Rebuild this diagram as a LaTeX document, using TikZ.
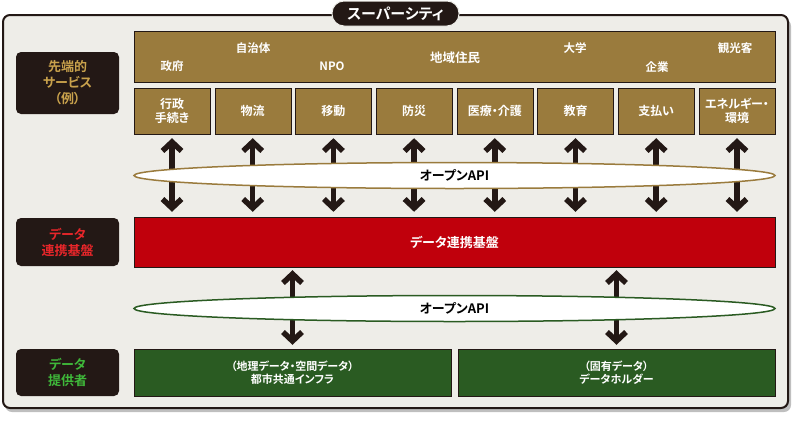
\documentclass[tikz,border=0pt]{standalone}
\usepackage{fontspec}
\setmainfont{Noto Sans CJK JP}[BoldFont={Noto Sans CJK JP Bold}, RawFeature=+palt]
\usepackage{xcolor}
\usetikzlibrary{shapes}
\usetikzlibrary{arrows.meta}
\definecolor{framebg}{HTML}{EEEDE8}
\definecolor{darkbrown}{HTML}{231815}
\definecolor{gold}{HTML}{9A7B3D}
\definecolor{goldtext}{HTML}{C9A24C}
\definecolor{linkred}{HTML}{C0000C}
\definecolor{redtext}{HTML}{E8262A}
\definecolor{provgreen}{HTML}{2A5B22}
\definecolor{greentext}{HTML}{3FB83A}
\tikzset{ svc_box/.style = {rectangle, draw=darkbrown, fill=gold, text=white, minimum width=76, minimum height=46, inner sep=0, align=center, font=\fontsize{12}{14}\selectfont\bfseries} }
\tikzset{ side_label/.style = {rectangle, rounded corners=5, fill=darkbrown, minimum width=103, inner sep=0, align=center, font=\fontsize{13}{16}\selectfont\bfseries} }
\tikzset{ who/.style = {text=white, inner sep=0, font=\fontsize{11.5}{13}\selectfont\bfseries} }
\tikzset{ open_api/.style = {ellipse, fill=white, line width=1.5pt, minimum width=641, minimum height=26, inner sep=0, font=\fontsize{13}{15}\selectfont\bfseries} }
\tikzset{ dbl_arrow/.style = {{Straight Barb[length=9pt,width=19pt]}-{Straight Barb[length=9pt,width=19pt]}, line width=5.5pt, draw=darkbrown} }

\begin{document}
\begin{tikzpicture}[x=1pt,y=-1pt]
        \useasboundingbox (0,0) rectangle (800,421);
        \fill[black!25, rounded corners=7] (5,19) rectangle (791,412);
        \draw[fill=framebg, draw=darkbrown, line width=2pt, rounded corners=7] (3,15) rectangle (788,408);
        \node[rectangle, rounded corners=12, fill=darkbrown, draw=framebg, line width=1pt, minimum width=127, minimum height=25, text=white, font=\fontsize{15}{18}\selectfont\bfseries] (title) at (395.5,13.5) {スーパーシティ};

        \node[side_label, minimum height=62, text=goldtext] (lsvc) at (67.5,83) {先端的\\サービス\\（例）};
        \node[side_label, minimum height=48, text=redtext] (llink) at (67.5,242) {データ\\連携基盤};
        \node[side_label, minimum height=47, text=greentext] (lprov) at (67.5,372.5) {データ\\提供者};

        \node[rectangle, draw=darkbrown, fill=gold, minimum width=641, minimum height=51, inner sep=0] (users) at (454.5,56.5) {};
        \node[who] (u1) at (253,48) {自治体};
        \node[who] (u2) at (172,66) {政府};
        \node[who] (u3) at (332,66) {NPO};
        \node[who, font=\fontsize{12.5}{14}\selectfont\bfseries] (u4) at (455,58) {地域住民};
        \node[who] (u5) at (575,48) {大学};
        \node[who] (u6) at (657,67) {企業};
        \node[who] (u7) at (735,48) {観光客};

        \node[svc_box] (s1) at (172,111) {行政\\手続き};
        \node[svc_box] (s2) at (252.7,111) {物流};
        \node[svc_box] (s3) at (333.4,111) {移動};
        \node[svc_box] (s4) at (414.1,111) {防災};
        \node[svc_box] (s5) at (494.8,111) {医療・介護};
        \node[svc_box] (s6) at (575.5,111) {教育};
        \node[svc_box] (s7) at (656.2,111) {支払い};
        \node[svc_box] (s8) at (737,111) {エネルギー・\\環境};

        \node[rectangle, draw=darkbrown, fill=linkred, minimum width=641, minimum height=50, inner sep=0, text=white, font=\fontsize{13}{15}\selectfont\bfseries] (link) at (454.5,242) {データ連携基盤};

        \node[rectangle, draw=darkbrown, fill=provgreen, minimum width=317, minimum height=47, inner sep=0, align=center, text=white, font=\fontsize{11}{13}\selectfont\bfseries] (g1) at (292.5,372.5) {（地理データ・空間データ）\\都市共通インフラ};
        \node[rectangle, draw=darkbrown, fill=provgreen, minimum width=317, minimum height=47, inner sep=0, align=center, text=white, font=\fontsize{11}{13}\selectfont\bfseries] (g2) at (616.5,372.5) {（固有データ）\\データホルダー};

        \draw[dbl_arrow, shorten <=4pt, shorten >=5pt] (s1.south) to (s1.south |- link.north);
        \draw[dbl_arrow, shorten <=4pt, shorten >=5pt] (s2.south) to (s2.south |- link.north);
        \draw[dbl_arrow, shorten <=4pt, shorten >=5pt] (s3.south) to (s3.south |- link.north);
        \draw[dbl_arrow, shorten <=4pt, shorten >=5pt] (s4.south) to (s4.south |- link.north);
        \draw[dbl_arrow, shorten <=4pt, shorten >=5pt] (s5.south) to (s5.south |- link.north);
        \draw[dbl_arrow, shorten <=4pt, shorten >=5pt] (s6.south) to (s6.south |- link.north);
        \draw[dbl_arrow, shorten <=4pt, shorten >=5pt] (s7.south) to (s7.south |- link.north);
        \draw[dbl_arrow, shorten <=4pt, shorten >=5pt] (s8.south) to (s8.south |- link.north);
        \draw[dbl_arrow, shorten <=3pt, shorten >=4pt] (g1.north |- link.south) to (g1.north);
        \draw[dbl_arrow, shorten <=3pt, shorten >=4pt] (g2.north |- link.south) to (g2.north);

        \node[open_api, draw=gold] (api1) at (454.5,175.5) {オープンAPI};
        \node[open_api, draw=provgreen] (api2) at (454.5,308.5) {オープンAPI};
\end{tikzpicture}
\end{document}
